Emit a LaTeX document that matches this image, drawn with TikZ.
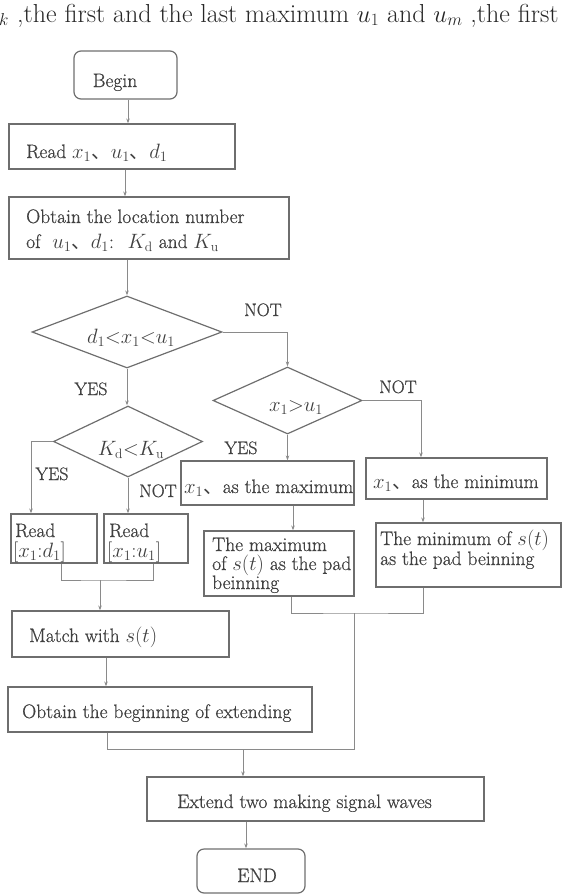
\documentclass[tikz,border=0pt]{standalone}
\usepackage{fontspec}
\setmainfont{Latin Modern Roman}
\newfontfamily\boxfont[FakeBold=0.7]{Latin Modern Roman}
\newfontfamily\cjk{Noto Sans CJK SC}
\usetikzlibrary{shapes.geometric,arrows.meta}
\definecolor{bx}{HTML}{6E6E6E}
\definecolor{cn}{HTML}{8A8A8A}
\definecolor{tx}{HTML}{404040}
\newcommand{\dn}{{\cjk 、}}
\begin{document}
\begin{tikzpicture}[x=1pt,y=-1pt,
  boxn/.style={draw=bx,line width=1.2pt,rectangle,inner sep=0pt},
  term/.style={boxn,rounded corners=7pt},
  dia/.style={draw=bx,line width=1.2pt,diamond,inner sep=0pt},
  txt/.style={text=tx,inner sep=0pt,font=\fontsize{19.5}{19.5}\selectfont\boxfont},
  lab/.style={text=tx,inner sep=0pt,font=\fontsize{18}{18}\selectfont\boxfont},
  hd/.style={text=black!85,inner sep=0pt,font=\fontsize{26}{26}\selectfont},
  conn/.style={draw=cn,line width=0.9pt},
  arr/.style={conn,-{Stealth[length=5pt,width=3.5pt]}}]
\useasboundingbox (0,0) rectangle (581,894);
% header line
\node[hd,anchor=base west] (head) at (17,22) {,the first and the last maximum $u_1$ and $u_m$ ,the first};
\node[hd,anchor=base west] (headk) at (-1,22) {$_k$};
% boxes
\node[term,minimum width=103pt,minimum height=48pt] (begin) at (125.5,75) {};
\node[boxn,minimum width=226pt,minimum height=45pt] (read) at (122,146.5) {};
\node[boxn,minimum width=280pt,minimum height=62pt] (obtain) at (149,228) {};
\node[dia,minimum width=190pt,minimum height=72pt] (d1) at (127,332) {};
\node[dia,minimum width=149pt,minimum height=67pt] (d2) at (287.5,400.5) {};
\node[dia,minimum width=149pt,minimum height=71pt] (d3) at (128,441.5) {};
\node[boxn,minimum width=86pt,minimum height=49pt] (read1) at (54,538.5) {};
\node[boxn,minimum width=84pt,minimum height=49pt] (read2) at (146,538.5) {};
\node[boxn,minimum width=173pt,minimum height=44pt] (maxb) at (267.5,483) {};
\node[boxn,minimum width=181pt,minimum height=41pt] (minb) at (456.5,478.5) {};
\node[boxn,minimum width=150pt,minimum height=65pt] (maxpad) at (279,563.5) {};
\node[boxn,minimum width=185pt,minimum height=64pt] (minpad) at (468.5,555) {};
\node[boxn,minimum width=217pt,minimum height=46pt] (match) at (120.5,634) {};
\node[boxn,minimum width=304pt,minimum height=45pt] (obtain2) at (160,709.5) {};
\node[boxn,minimum width=337pt,minimum height=44pt] (extend) at (315.5,799) {};
\node[term,minimum width=108pt,minimum height=44pt] (end) at (251,871) {};
% texts
\node[txt,anchor=base] (begint) at (115,87) {Begin};
\node[txt,anchor=base west] (readt) at (26,158) {Read $x_1$\dn$u_1$\dn$d_1$};
\node[txt,anchor=base west] (obt1) at (26,223) {Obtain the location number};
\node[txt,anchor=base west] (obt2) at (26,248) {of \ $u_1$\dn$d_1$: \ $K_{\mathrm{d}}$ and $K_{\mathrm{u}}$};
\node[txt,anchor=base] (d1t) at (131,343) {$d_1{<}x_1{<}u_1$};
\node[txt,anchor=base] (d2t) at (296,411) {$x_1{>}u_1$};
\node[txt,anchor=base] (d3t) at (131,455) {$K_{\mathrm{d}}{<}K_{\mathrm{u}}$};
\node[txt,anchor=base west] (r1a) at (15,537) {Read};
\node[txt,anchor=base west] (r1b) at (13,557) {$[x_1{:}d_1]$};
\node[txt,anchor=base west] (r2a) at (109,537) {Read};
\node[txt,anchor=base west] (r2b) at (107,557) {$[x_1{:}u_1]$};
\node[txt,anchor=base west] (maxbt) at (184,493) {$x_1$\dn as the maximum};
\node[txt,anchor=base west] (minbt) at (373,488) {$x_1$\dn as the minimum};
\node[txt,anchor=base west] (mp1) at (212,551) {The maximum};
\node[txt,anchor=base west] (mp2) at (212,570) {of $s(t)$ as the pad};
\node[txt,anchor=base west] (mp3) at (212,589) {beinning};
\node[txt,anchor=base west] (np1) at (380,545) {The minimum of $s(t)$};
\node[txt,anchor=base west] (np2) at (380,565) {as the pad beinning};
\node[txt,anchor=base west] (matcht) at (29,642) {Match with $s(t)$};
\node[txt,anchor=base west] (ob2t) at (22,718) {Obtain the beginning of extending};
\node[txt,anchor=base west] (extt) at (177,808) {Extend two making signal waves};
\node[txt,anchor=base] (endt) at (257,882) {END};
% branch labels
\node[lab,anchor=base] (not1) at (263,316) {NOT};
\node[lab,anchor=base] (yes1) at (91,395) {YES};
\node[lab,anchor=base] (yes2) at (52,480) {YES};
\node[lab,anchor=base] (not2) at (158,497) {NOT};
\node[lab,anchor=base] (yes3) at (241,454) {YES};
\node[lab,anchor=base] (not3) at (398,393) {NOT};
% helper coordinates
\coordinate (c1) at (128,0);
\coordinate (c2) at (125,0);
\coordinate (c6) at (31,0);
\coordinate (c9) at (421,0);
\coordinate (c10) at (293,0);
\coordinate (c11) at (423,0);
\coordinate (r1x) at (61,0);
\coordinate (r2x) at (153,0);
\coordinate (j1) at (100,580);
\coordinate (c14) at (106,0);
\coordinate (mpx) at (291,0);
\coordinate (mnx) at (423,0);
\coordinate (j2) at (354,613);
\coordinate (o2x) at (107,0);
\coordinate (j4) at (354,749);
\coordinate (j3) at (243,749);
\coordinate (c18) at (246,0);
% connectors
\draw[arr] (begin.south -| c1) -- (read.north -| c1);
\draw[arr] (read.south -| c2) -- (obtain.north -| c2);
\draw[arr] (obtain.south -| d1.north) -- (d1.north);
\draw[arr] (d1.east) -| (d2.north);
\draw[arr] (d1.south) -- (d1.south |- d3.north);
\draw[arr] (d3.west) -| (c6 |- read1.north);
\draw[arr] (d3.south) -- (d3.south |- read2.north);
\draw[arr] (d2.south) -- (d2.south |- maxb.north);
\draw[arr] (d2.east) -| (c9 |- minb.north);
\draw[arr] (maxb.south -| c10) -- (maxpad.north -| c10);
\draw[arr] (minb.south -| c11) -- (minpad.north -| c11);
\draw[conn] (read1.south -| r1x) |- (j1) -| (read2.south -| r2x);
\draw[arr] (j1) -- (j1 |- match.north);
\draw[arr] (match.south -| c14) -- (obtain2.north -| c14);
\draw[conn] (maxpad.south -| mpx) |- (j2) -| (minpad.south -| mnx);
\draw[conn] (obtain2.south -| o2x) |- (j4) -- (j2);
\draw[arr] (j3) -- (j3 |- extend.north);
\draw[arr] (extend.south -| c18) -- (end.north -| c18);
\end{tikzpicture}
\end{document}
